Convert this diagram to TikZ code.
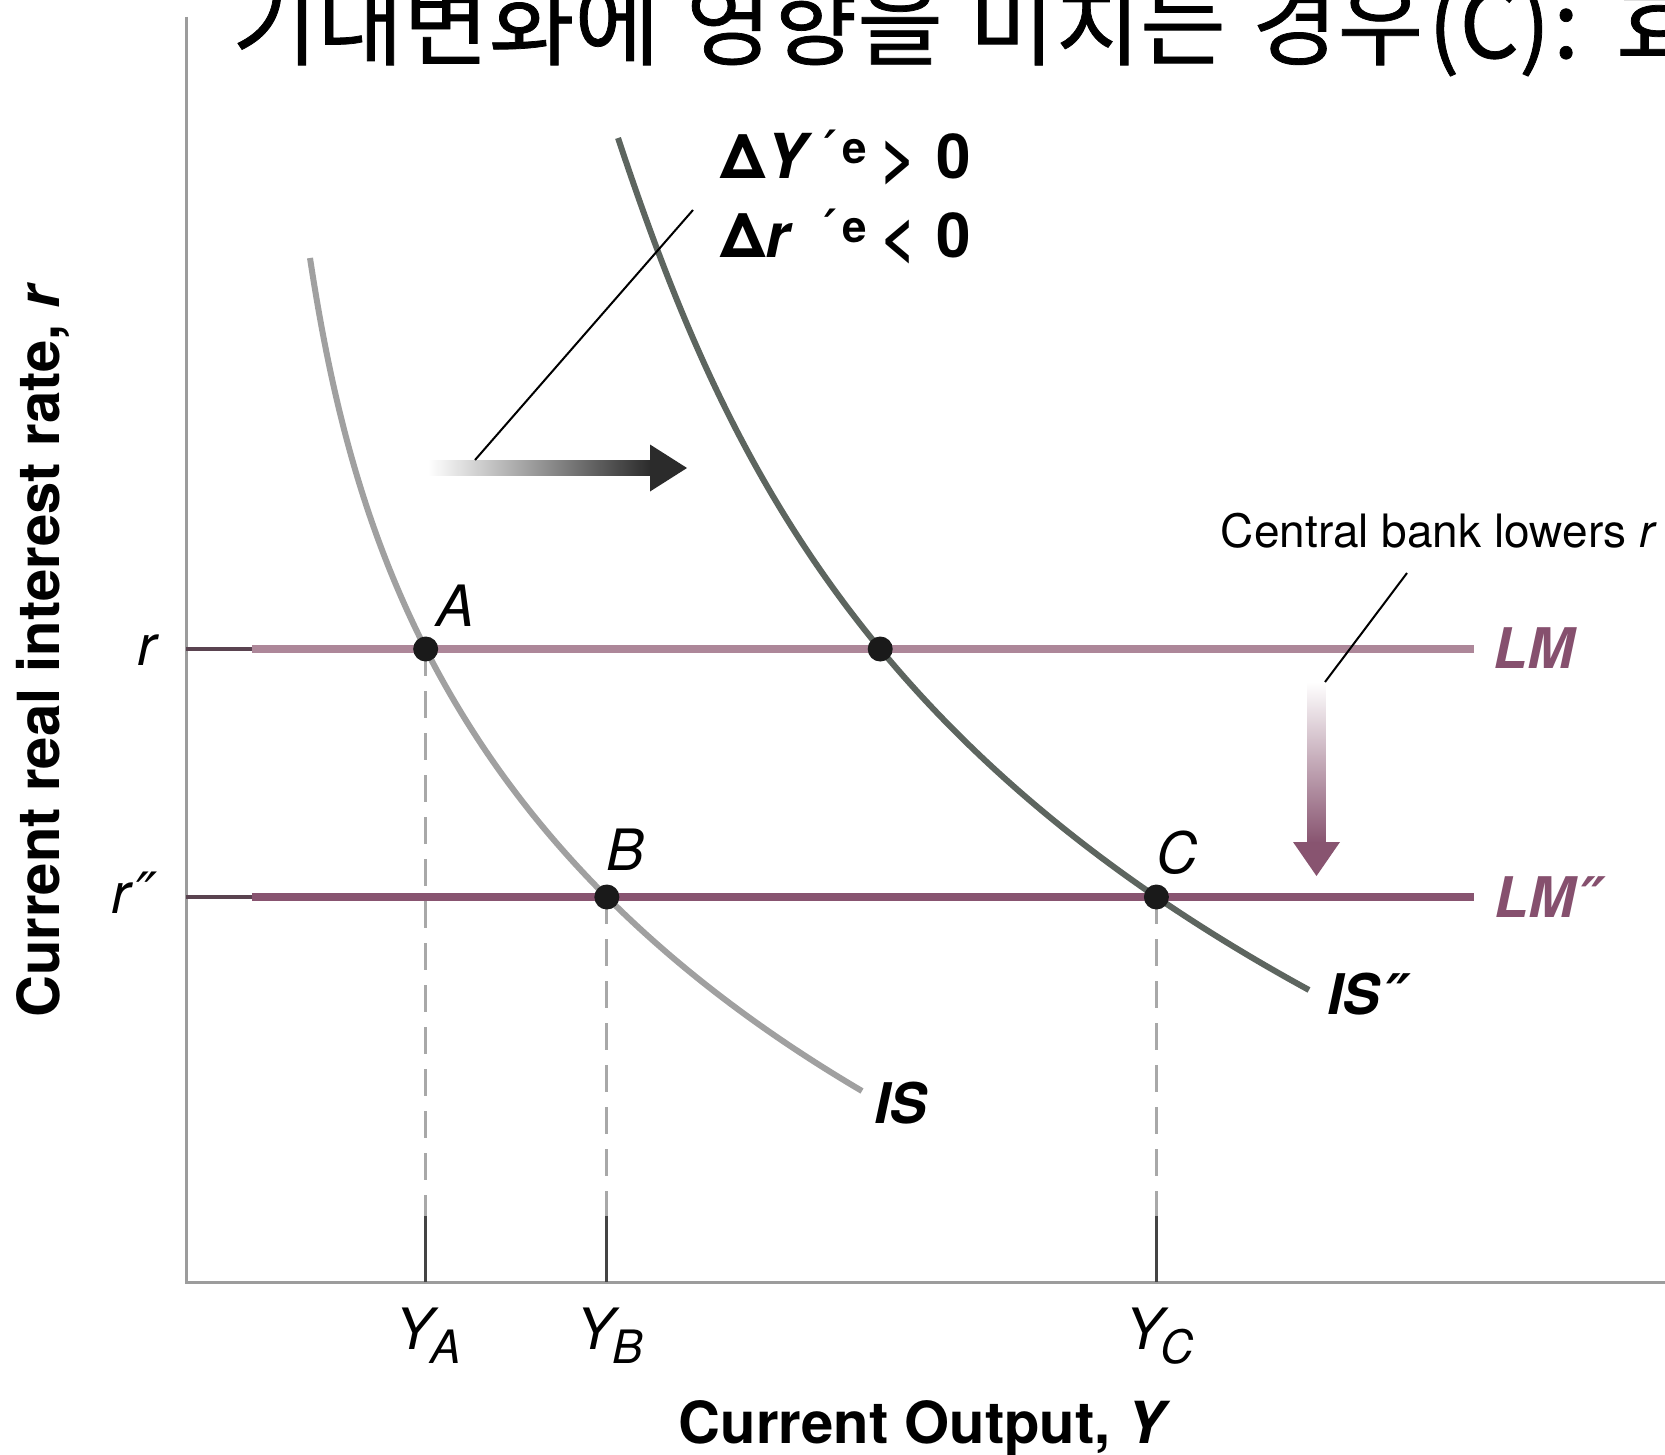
\documentclass[tikz,border=0pt]{standalone}
\usepackage{fontspec}
\setmainfont{TeX Gyre Heros}
\newfontfamily\kr[FakeBold=0.8]{Noto Sans CJK KR}
\newfontfamily\dvs{DejaVu Sans}
\usetikzlibrary{intersections}
\definecolor{axisc}{HTML}{9C9C9C}
\definecolor{isc}{HTML}{A0A0A0}
\definecolor{isdc}{HTML}{5D655F}
\definecolor{lmc}{HTML}{AD8799}
\definecolor{lmdc}{HTML}{885470}
\definecolor{labc}{HTML}{86506E}
\definecolor{dotc}{HTML}{1A1A1A}
\definecolor{arrc}{HTML}{2B2B2B}
\definecolor{tickc}{HTML}{444444}
\definecolor{lmtickc}{HTML}{5A4350}
\definecolor{dashc}{HTML}{A8A8A8}
\newcommand{\pr}{{\dvs\bfseries\itshape ′}}
\newcommand{\dpr}{{\dvs\itshape ″}}
\newcommand{\bdpr}{{\dvs\bfseries\itshape ″}}
\begin{document}
\begin{tikzpicture}[x=1pt,y=-1pt,
  axisline/.style={draw=axisc, line width=3pt},
  lmline/.style={draw=lmc, line width=8pt},
  lmdline/.style={draw=lmdc, line width=8pt},
  lmtick/.style={draw=lmtickc, line width=4pt},
  isline/.style={draw=isc, line width=6pt},
  isdline/.style={draw=isdc, line width=6pt},
  dashline/.style={draw=dashc, line width=3pt, dash pattern=on 27pt off 15pt},
  tickline/.style={draw=tickc, line width=3pt},
  leader/.style={draw=black, line width=2pt},
  dot/.style={circle, fill=dotc, inner sep=0pt, minimum size=25pt},
  ptlab/.style={inner sep=0pt, font=\fontsize{57}{60}\selectfont\itshape},
  curvelab/.style={inner sep=0pt, anchor=base west, font=\fontsize{56}{60}\selectfont\bfseries\itshape},
  axlab/.style={inner sep=0pt, font=\fontsize{58}{60}\selectfont\bfseries},
  eqlab/.style={inner sep=0pt, anchor=base west, font=\fontsize{62}{62}\selectfont\bfseries}
]
\useasboundingbox (0,0) rectangle (1665,1455);
\clip (0,0) rectangle (1665,1455);

% title
\node[inner sep=0pt, anchor=base west, font=\kr\fontsize{93}{93}\selectfont] (title) at (232,58) {\makebox[454pt][l]{기대변화에}\makebox[283pt][l]{영향을}\makebox[283pt][l]{미치는}\makebox[176pt][l]{경우}\makebox[125pt][l]{(C)}\makebox[63pt][l]{:}효};

% axes
\coordinate (top) at (186,17);
\coordinate (O) at (186,1282);
\coordinate (xend) at (1665,1282);
\draw[axisline] (top) -- (O) -- (xend);

% LM lines
\coordinate (LMl) at (252,649);
\coordinate (LMr) at (1474,649);
\coordinate (LMdl) at (252,897);
\coordinate (LMdr) at (1474,897);
\draw[lmtick] (O |- LMl) -- (LMl);
\draw[lmtick] (O |- LMdl) -- (LMdl);
\draw[lmline, name path=LM] (LMl) -- (LMr);
\draw[lmdline, name path=LMd] (LMdl) -- (LMdr);

% IS curves
\coordinate (IS0) at (310,258);
\coordinate (IS1) at (862,1091);
\coordinate (ISd0) at (618,138);
\coordinate (ISd1) at (1309,990);
\draw[isline, name path=IS] (IS0) .. controls (350,520) and (437,841) .. (IS1);
\draw[isdline, name path=ISd] (ISd0) .. controls (718,438) and (851,740) .. (ISd1);

\path[name intersections={of=IS and LM, by=pA}];
\path[name intersections={of=IS and LMd, by=pB}];
\path[name intersections={of=ISd and LMd, by=pC}];
\path[name intersections={of=ISd and LM, by=pM}];

% dashed drop lines and ticks
\coordinate (tk) at (0,1216);
\foreach \p in {pA,pB,pC}{
  \draw[dashline] (\p) -- (\p |- tk);
  \draw[tickline] (\p |- tk) -- (\p |- O);
}

% shift arrow (right)
\shade[left color=white, right color=arrc] (428,460.5) rectangle (651,475.5);
\fill[arrc] (650,444.5) -- (687,468) -- (650,491.5) -- cycle;
\coordinate (ldA) at (475,460);
\coordinate (ldB) at (693,210);
\draw[leader] (ldA) -- (ldB);

% down arrow
\shade[top color=white, bottom color=lmdc] (1307.5,682) rectangle (1325.5,843);
\fill[lmdc] (1293,842) -- (1340,842) -- (1316.5,876) -- cycle;
\coordinate (lcA) at (1407,573);
\coordinate (lcB) at (1325,682);
\draw[leader] (lcA) -- (lcB);

% dots
\node[dot] (dA) at (pA) {};
\node[dot] (dB) at (pB) {};
\node[dot] (dC) at (pC) {};
\node[dot] (dM) at (pM) {};

% point labels
\node[ptlab] (lA) at (456,606) {A};
\node[ptlab] (lB) at (626,850) {B};
\node[ptlab] (lC) at (1177,853) {C};

% axis value labels
\node[ptlab, anchor=base east] (lr) at (157,665) {r};
\node[ptlab, anchor=base east] (lrr) at (158,913) {r\kern6pt\dpr};
\node[ptlab] (YA) at ([xshift=3pt]pA |- 0,1336) {Y\kern-3pt\raisebox{-14pt}{\fontsize{46}{46}\selectfont A}};
\node[ptlab] (YB) at ([xshift=3pt]pB |- 0,1336) {Y\kern-3pt\raisebox{-14pt}{\fontsize{46}{46}\selectfont B}};
\node[ptlab] (YC) at ([xshift=3pt]pC |- 0,1336) {Y\kern-3pt\raisebox{-14pt}{\fontsize{46}{46}\selectfont C}};

% curve labels
\node[curvelab, text=labc] (tLM) at (1493,668) {LM};
\node[curvelab, text=labc] (tLMd) at (1494,917) {LM\kern6pt\bdpr};
\node[curvelab] (tIS) at (874,1123) {IS};
\node[curvelab] (tISd) at (1327,1014) {IS\kern6pt\bdpr};

% axis titles
\node[axlab, rotate=90] (ylab) at (43,650) {Current real interest rate, \textit{r}};
\node[axlab] (xlab) at (925,1428) {Current Output, \textit{Y}};

% annotation texts
\node[eqlab] (eq1) at (720,179) {\makebox[104pt][l]{Δ\textit{Y}}\raisebox{15pt}{\fontsize{44}{44}\selectfont{\fontsize{46}{46}\selectfont\pr}\kern6pt e}\hspace{14pt}\makebox[56pt][l]{>}0};
\node[eqlab] (eq2) at (720,258) {\makebox[104pt][l]{Δ\textit{r}}\raisebox{15pt}{\fontsize{44}{44}\selectfont{\fontsize{46}{46}\selectfont\pr}\kern6pt e}\hspace{14pt}\makebox[56pt][l]{<}0};
\node[inner sep=0pt, font=\fontsize{46}{48}\selectfont] (cb) at (1439,531) {Central bank lowers \textit{r}};
\end{tikzpicture}
\end{document}
